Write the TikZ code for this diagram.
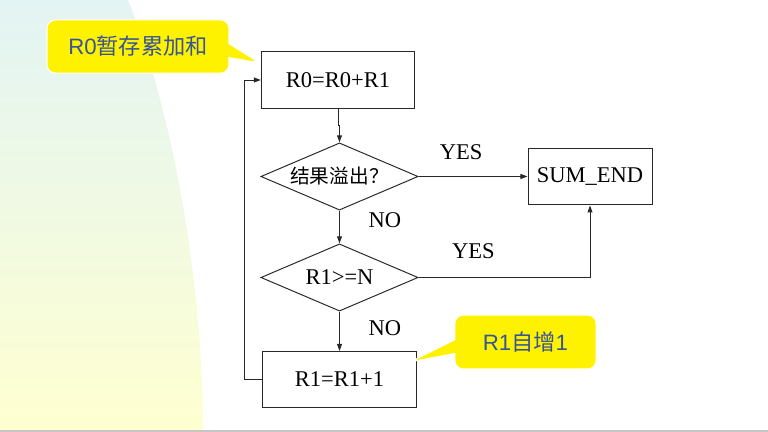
\documentclass[tikz,border=0pt]{standalone}
\usepackage{fontspec}
\setmainfont{Liberation Serif}
\newfontfamily\cjk{Noto Sans CJK SC}
\newfontfamily\notefont{Liberation Sans}
\usetikzlibrary{shapes.geometric,shapes.callouts,arrows.meta}

\definecolor{bgtop}{RGB}{226,244,244}
\definecolor{bgbottom}{RGB}{255,255,208}
\definecolor{notetext}{RGB}{55,85,150}
\definecolor{flowline}{RGB}{40,40,40}

\tikzstyle{box} = [draw=flowline, line width=0.7pt, minimum width=3.83cm, minimum height=1.4cm, inner sep=0pt, font=\fontsize{16}{19}\selectfont]
\tikzstyle{test} = [draw=flowline, line width=0.7pt, diamond, aspect=2.34, minimum width=3.93cm, minimum height=1.68cm, inner sep=0pt, font=\fontsize{16}{19}\selectfont]
\tikzstyle{arr} = [draw=flowline, line width=0.7pt, -{Triangle[length=5pt,width=3.5pt]}]
\tikzstyle{lbl} = [font=\fontsize{16}{19}\selectfont]
\tikzstyle{note} = [rectangle callout, fill=yellow, draw=white, line width=0.8pt, rounded corners=6pt, callout pointer width=0.35cm, text=notetext, font=\notefont\fontsize{15.8}{18}\selectfont]

\begin{document}
\begin{tikzpicture}[x=0.025cm, y=-0.025cm]
\useasboundingbox (0,0) rectangle (768,432);
\shade[top color=bgtop, bottom color=bgbottom] (0,0) -- (128,0) .. controls (172,110) and (203,280) .. (203,430) -- (0,430) -- cycle;
\draw[gray!45, line width=1.2pt] (0,430.8) -- (768,430.8);

\node[box] (r0) at (338,80) {R0=R0+R1};
\node[test] (d1) at (339.5,176.5) {\cjk\fontsize{14}{17}\selectfont 结果溢出？};
\node[test] (d2) at (339.5,277.5) {R1>=N};
\node[box] (r1) at (339.5,379.5) {R1=R1+1};
\node[box, minimum width=3.1cm, minimum height=1.42cm] (sum) at (590,176.5) {SUM\_END};

\draw[arr] (r0.south) -- ++(0,17) -| (d1.north);
\draw[arr] (d1.east) -- node[lbl, pos=.39, above=8pt] {YES} (sum.west);
\draw[arr] (d1.south) -- node[lbl, pos=.3, right=0.6cm] {NO} (d2.north);
\draw[arr] (d2.east) -| node[lbl, pos=.16, above=10pt] {YES} (sum.south);
\draw[arr] (d2.south) -- node[lbl, pos=.42, right=0.6cm] {NO} (r1.north);
\draw[arr] (r1.west) -- ++(-18,0) |- (r0.west);

\coordinate (tipA) at (260,63);
\coordinate (tipB) at (410,362);
\node[note, minimum width=4.55cm, minimum height=1.33cm, callout absolute pointer={(tipA)}] (noteA) at (138,46.5) {R0{\cjk 暂存累加和}};
\node[note, minimum width=3.53cm, minimum height=1.35cm, callout absolute pointer={(tipB)}] (noteB) at (525.5,342) {R1{\cjk 自增}1};
\end{tikzpicture}
\end{document}
